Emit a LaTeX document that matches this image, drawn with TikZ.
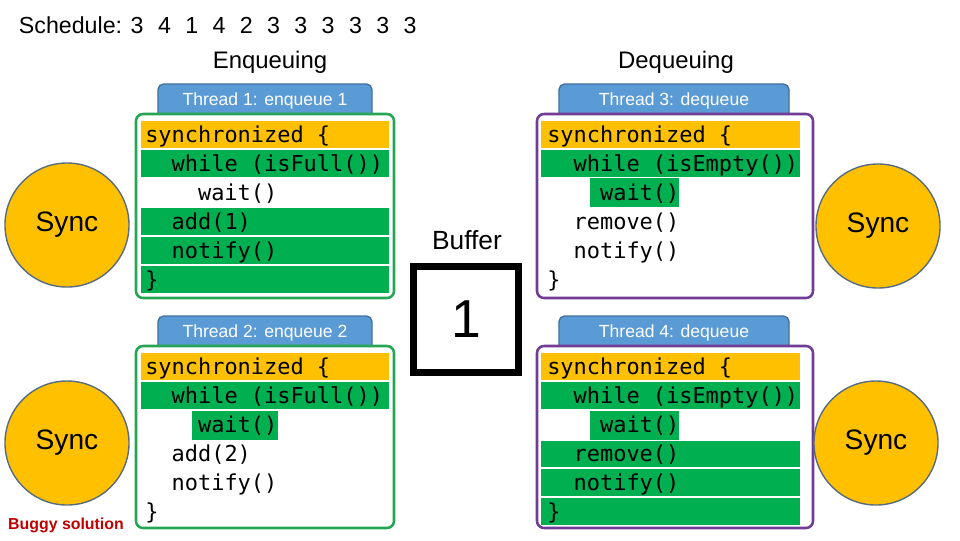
\documentclass[tikz,border=0pt]{standalone}
\usepackage{fontspec}
\setmainfont{Liberation Sans}
\newfontfamily\codefont{DejaVu Sans Mono}
\definecolor{lockOrange}{RGB}{255,192,0}
\definecolor{runGreen}{RGB}{0,176,80}
\definecolor{enqDraw}{RGB}{38,166,85}
\definecolor{deqDraw}{RGB}{112,60,150}
\definecolor{tabFill}{RGB}{91,155,213}
\definecolor{tabDraw}{RGB}{65,113,156}
\definecolor{syncDraw}{RGB}{88,108,128}
\definecolor{bugRed}{RGB}{192,0,0}
\newcommand\gap{\hspace{0.62em}}

\begin{document}
\begin{tikzpicture}[
  x=0.025cm, y=-0.025cm,
  title/.style={font=\fontsize{17}{20}\selectfont},
  tab/.style={draw=tabDraw, fill=tabFill, line width=1pt, rounded corners=4pt,
    minimum height=0.85cm, text=white, font=\fontsize{12.5}{15}\selectfont},
  enqbox/.style={draw=enqDraw, fill=white, line width=1.8pt, rounded corners=5pt},
  deqbox/.style={draw=deqDraw, fill=white, line width=1.8pt, rounded corners=5pt},
  lock/.style={fill=lockOrange},
  run/.style={fill=runGreen},
  code/.style={anchor=base west, inner sep=0pt, font=\codefont\fontsize{15.6}{18}\selectfont},
  sync/.style={circle, draw=syncDraw, fill=lockOrange, line width=1pt,
    minimum size=3.1cm, font=\fontsize{20}{24}\selectfont}
]
\useasboundingbox (0,0) rectangle (960,540);

% Headings.
\node[anchor=west, font=\fontsize{16.5}{20}\selectfont] (sched) at (14,25)
  {Schedule: 3\gap4\gap1\gap4\gap2\gap3\gap3\gap3\gap3\gap3\gap3};
\node[title] (enq) at (270,62) {Enqueuing};
\node[title] (deq) at (676,62) {Dequeuing};

% Thread 1: enqueue 1.
\node[tab, minimum width=5.35cm] (tab1) at (265,101) {Thread 1: enqueue 1};
\draw[enqbox] (136,114) rectangle (394,298);
\fill[lock] (141,120.5) rectangle (389,147.5);
\fill[run] (141,149.5) rectangle (389,176.5);
\fill[run] (141,207.5) rectangle (389,234.5);
\fill[run] (141,236.5) rectangle (389,263.5);
\fill[run] (141,265.5) rectangle (389,292.5);
\node[code] (t1a) at (145,142) {synchronized \{};
\node[code] (t1b) at (171.4,171) {while (isFull())};
\node[code] (t1c) at (197.8,200) {wait()};
\node[code] (t1d) at (171.4,229) {add(1)};
\node[code] (t1e) at (171.4,258) {notify()};
\node[code] (t1f) at (145,287) {\}};

% Thread 2: enqueue 2.
\node[tab, minimum width=5.35cm] (tab2) at (265,333) {Thread 2: enqueue 2};
\draw[enqbox] (136,346) rectangle (394,528);
\fill[lock] (141,352.5) rectangle (389,379.5);
\fill[run] (141,381.5) rectangle (389,408.5);
\fill[run] (192,410.5) rectangle (278,439.5);
\node[code] (t2a) at (145,374) {synchronized \{};
\node[code] (t2b) at (171.4,403) {while (isFull())};
\node[code] (t2c) at (197.8,432) {wait()};
\node[code] (t2d) at (171.4,461) {add(2)};
\node[code] (t2e) at (171.4,490) {notify()};
\node[code] (t2f) at (145,519) {\}};

% Thread 3: dequeue.
\node[tab, minimum width=5.75cm] (tab3) at (674,101) {Thread 3: dequeue};
\draw[deqbox] (537,114) rectangle (813,298);
\fill[lock] (541,120.5) rectangle (800,147.5);
\fill[run] (541,149.5) rectangle (800,176.5);
\fill[run] (590,177.5) rectangle (679,206.5);
\node[code] (t3a) at (547,142) {synchronized \{};
\node[code] (t3b) at (573.4,171) {while (isEmpty())};
\node[code] (t3c) at (599.8,200) {wait()};
\node[code] (t3d) at (573.4,229) {remove()};
\node[code] (t3e) at (573.4,258) {notify()};
\node[code] (t3f) at (547,287) {\}};

% Thread 4: dequeue.
\node[tab, minimum width=5.75cm] (tab4) at (674,333) {Thread 4: dequeue};
\draw[deqbox] (537,346) rectangle (813,528);
\fill[lock] (541,352.5) rectangle (800,379.5);
\fill[run] (541,381.5) rectangle (800,408.5);
\fill[run] (590,410.5) rectangle (679,439.5);
\fill[run] (541,440.5) rectangle (800,466.5);
\fill[run] (541,468.5) rectangle (800,495.5);
\fill[run] (541,497.5) rectangle (800,524.5);
\node[code] (t4a) at (547,374) {synchronized \{};
\node[code] (t4b) at (573.4,403) {while (isEmpty())};
\node[code] (t4c) at (599.8,432) {wait()};
\node[code] (t4d) at (573.4,461) {remove()};
\node[code] (t4e) at (573.4,490) {notify()};
\node[code] (t4f) at (547,519) {\}};

% Monitors.
\node[sync] (sync1) at (67,225) {Sync};
\node[sync] (sync2) at (67,443) {Sync};
\node[sync] (sync3) at (878,226) {Sync};
\node[sync] (sync4) at (876,443) {Sync};
\node[text=bugRed, font=\bfseries\fontsize{11.3}{14}\selectfont] (bug) at (66,525) {Buggy solution};

% Shared buffer.
\node[font=\fontsize{18.7}{22}\selectfont] (buflabel) at (467,240) {Buffer};
\node[draw, line width=5pt, minimum size=2.63cm, font=\fontsize{38}{44}\selectfont] (buf) at (466,319.5) {1};

\end{tikzpicture}
\end{document}
